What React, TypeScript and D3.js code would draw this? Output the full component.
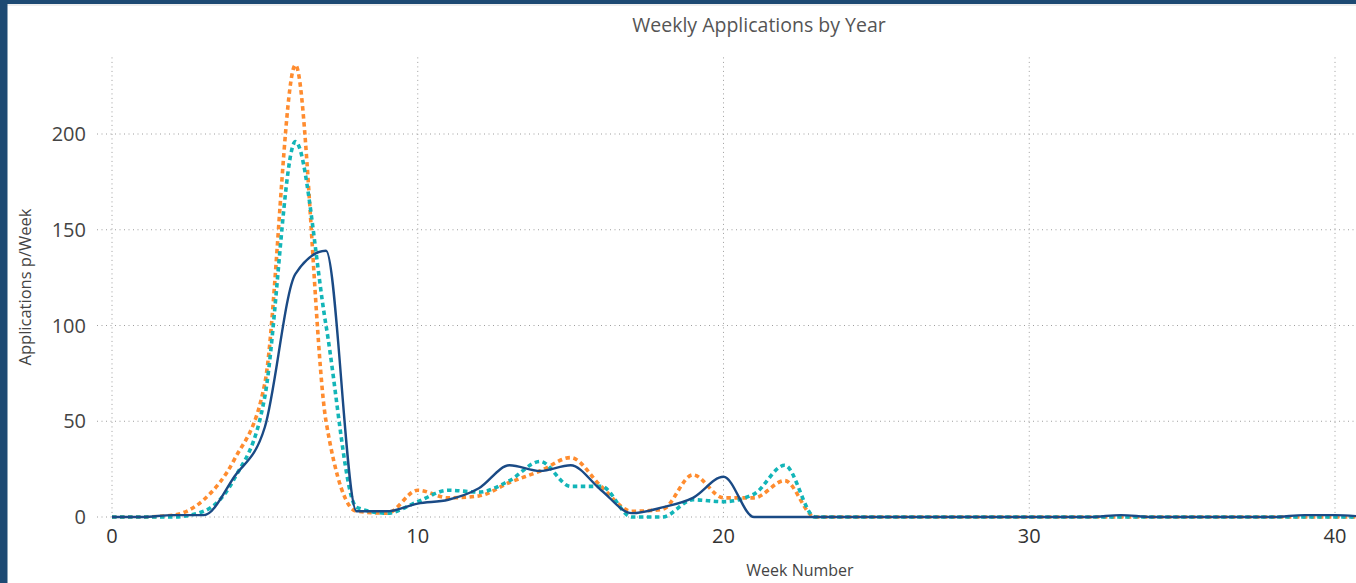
import React from 'react';
import * as d3 from 'd3';

// week numbers on the x axis
const weeks = [0, 1, 2, 3, 4, 5, 6, 7, 8, 9, 10, 11, 12, 13, 14, 15, 16, 17, 18, 19, 20,
  21, 22, 23, 24, 25, 26, 27, 28, 29, 30, 31, 32, 33, 34, 35, 36, 37, 38, 39, 40, 41];

// applications per week
const orangeYear = [0, 0, 1, 9, 30, 70, 236, 50, 3, 2, 14, 10, 11, 18, 24, 31, 16, 3, 4, 22, 10,
  10, 19, 0, 0, 0, 0, 0, 0, 0, 0, 0, 0, 0, 0, 0, 0, 0, 0, 0, 0, 0];
const tealYear = [0, 0, 0, 3, 20, 63, 196, 100, 5, 2, 8, 14, 13, 19, 29, 16, 16, 0, 0, 9, 8,
  12, 27, 0, 0, 0, 0, 0, 0, 0, 0, 0, 0, 0, 0, 0, 0, 0, 0, 0, 0, 0];
const blueYear = [0, 0, 1, 1, 21, 47, 127, 139, 3, 3, 7, 9, 15, 27, 24, 27, 14, 2, 5, 10, 21,
  0, 0, 0, 0, 0, 0, 0, 0, 0, 0, 0, 0, 1, 0, 0, 0, 0, 0, 1, 1, 0];

const xTicks = [0, 10, 20, 30, 40];
const yTicks = [0, 50, 100, 150, 200];

const W = 1356;
const H = 583;
const FONT = '"Open Sans", "Segoe UI", sans-serif';

const App = () => {
  const x = d3.scaleLinear().domain([0, 40]).range([112, 1335]);
  const y = d3.scaleLinear().domain([0, 240]).range([517, 57.4]);
  const plotRight = W;

  const line = d3.line<number>()
    .x((d, i) => x(weeks[i]))
    .y(d => y(d))
    .curve(d3.curveMonotoneX);

  const series = [
    { name: 'orange', values: orangeYear, color: '#ff8c2f', width: 3.6, dash: '4.5,3.5' },
    { name: 'teal', values: tealYear, color: '#13b5b8', width: 3.6, dash: '4.5,3.5' },
    { name: 'blue', values: blueYear, color: '#1a4a85', width: 2.4, dash: null },
  ];

  return (
    <div style={{ position: 'fixed', left: 0, top: 0 }}>
      <svg width={W} height={H} style={{ display: 'block', background: '#fff' }}>
        <defs>
          <clipPath id="plot">
            <rect x={x(0) - 4} y={y(240) - 10} width={plotRight - x(0) + 4} height={y(0) - y(240) + 16} />
          </clipPath>
        </defs>

        {/* frame */}
        <rect x={0} y={0} width={W} height={4} fill="#1d4a73" />
        <rect x={0} y={4} width={W} height={2} fill="#eeeeee" />
        <rect x={0} y={0} width={7.5} height={H} fill="#1d4a73" />

        <text x={759} y={32} textAnchor="middle" fontFamily={FONT} fontSize={19.5} fill="#555">
          Weekly Applications by Year
        </text>

        {/* grid */}
        {yTicks.map(t => (
          <line key={'gy' + t} x1={97} x2={plotRight} y1={y(t)} y2={y(t)}
            stroke="#9e9e9e" strokeWidth={1} strokeDasharray="1,3.5" />
        ))}
        {xTicks.map(t => (
          <line key={'gx' + t} x1={x(t)} x2={x(t)} y1={y(240)} y2={y(0)}
            stroke="#9e9e9e" strokeWidth={1} strokeDasharray="1,3.5" />
        ))}

        {/* tick labels */}
        {yTicks.map(t => (
          <text key={'ty' + t} x={86} y={y(t)} dy="0.35em" textAnchor="end"
            fontFamily={FONT} fontSize={20} fill="#444">{t}</text>
        ))}
        {xTicks.map(t => (
          <text key={'tx' + t} x={x(t)} y={536} dy="0.35em" textAnchor="middle"
            fontFamily={FONT} fontSize={20} fill="#333">{t}</text>
        ))}

        <text x={800} y={576} textAnchor="middle" fontFamily={FONT} fontSize={16} fill="#444">
          Week Number
        </text>
        <text transform={`translate(31,${287}) rotate(-90)`} textAnchor="middle"
          fontFamily={FONT} fontSize={16.5} fill="#444">
          Applications p/Week
        </text>

        {/* lines */}
        <g clipPath="url(#plot)">
          {series.map(s => (
            <path key={s.name} d={line(s.values) || ''} fill="none" stroke={s.color}
              strokeWidth={s.width} strokeDasharray={s.dash || undefined}
              strokeLinejoin="round" />
          ))}
        </g>
      </svg>
    </div>
  );
};

export default App;
